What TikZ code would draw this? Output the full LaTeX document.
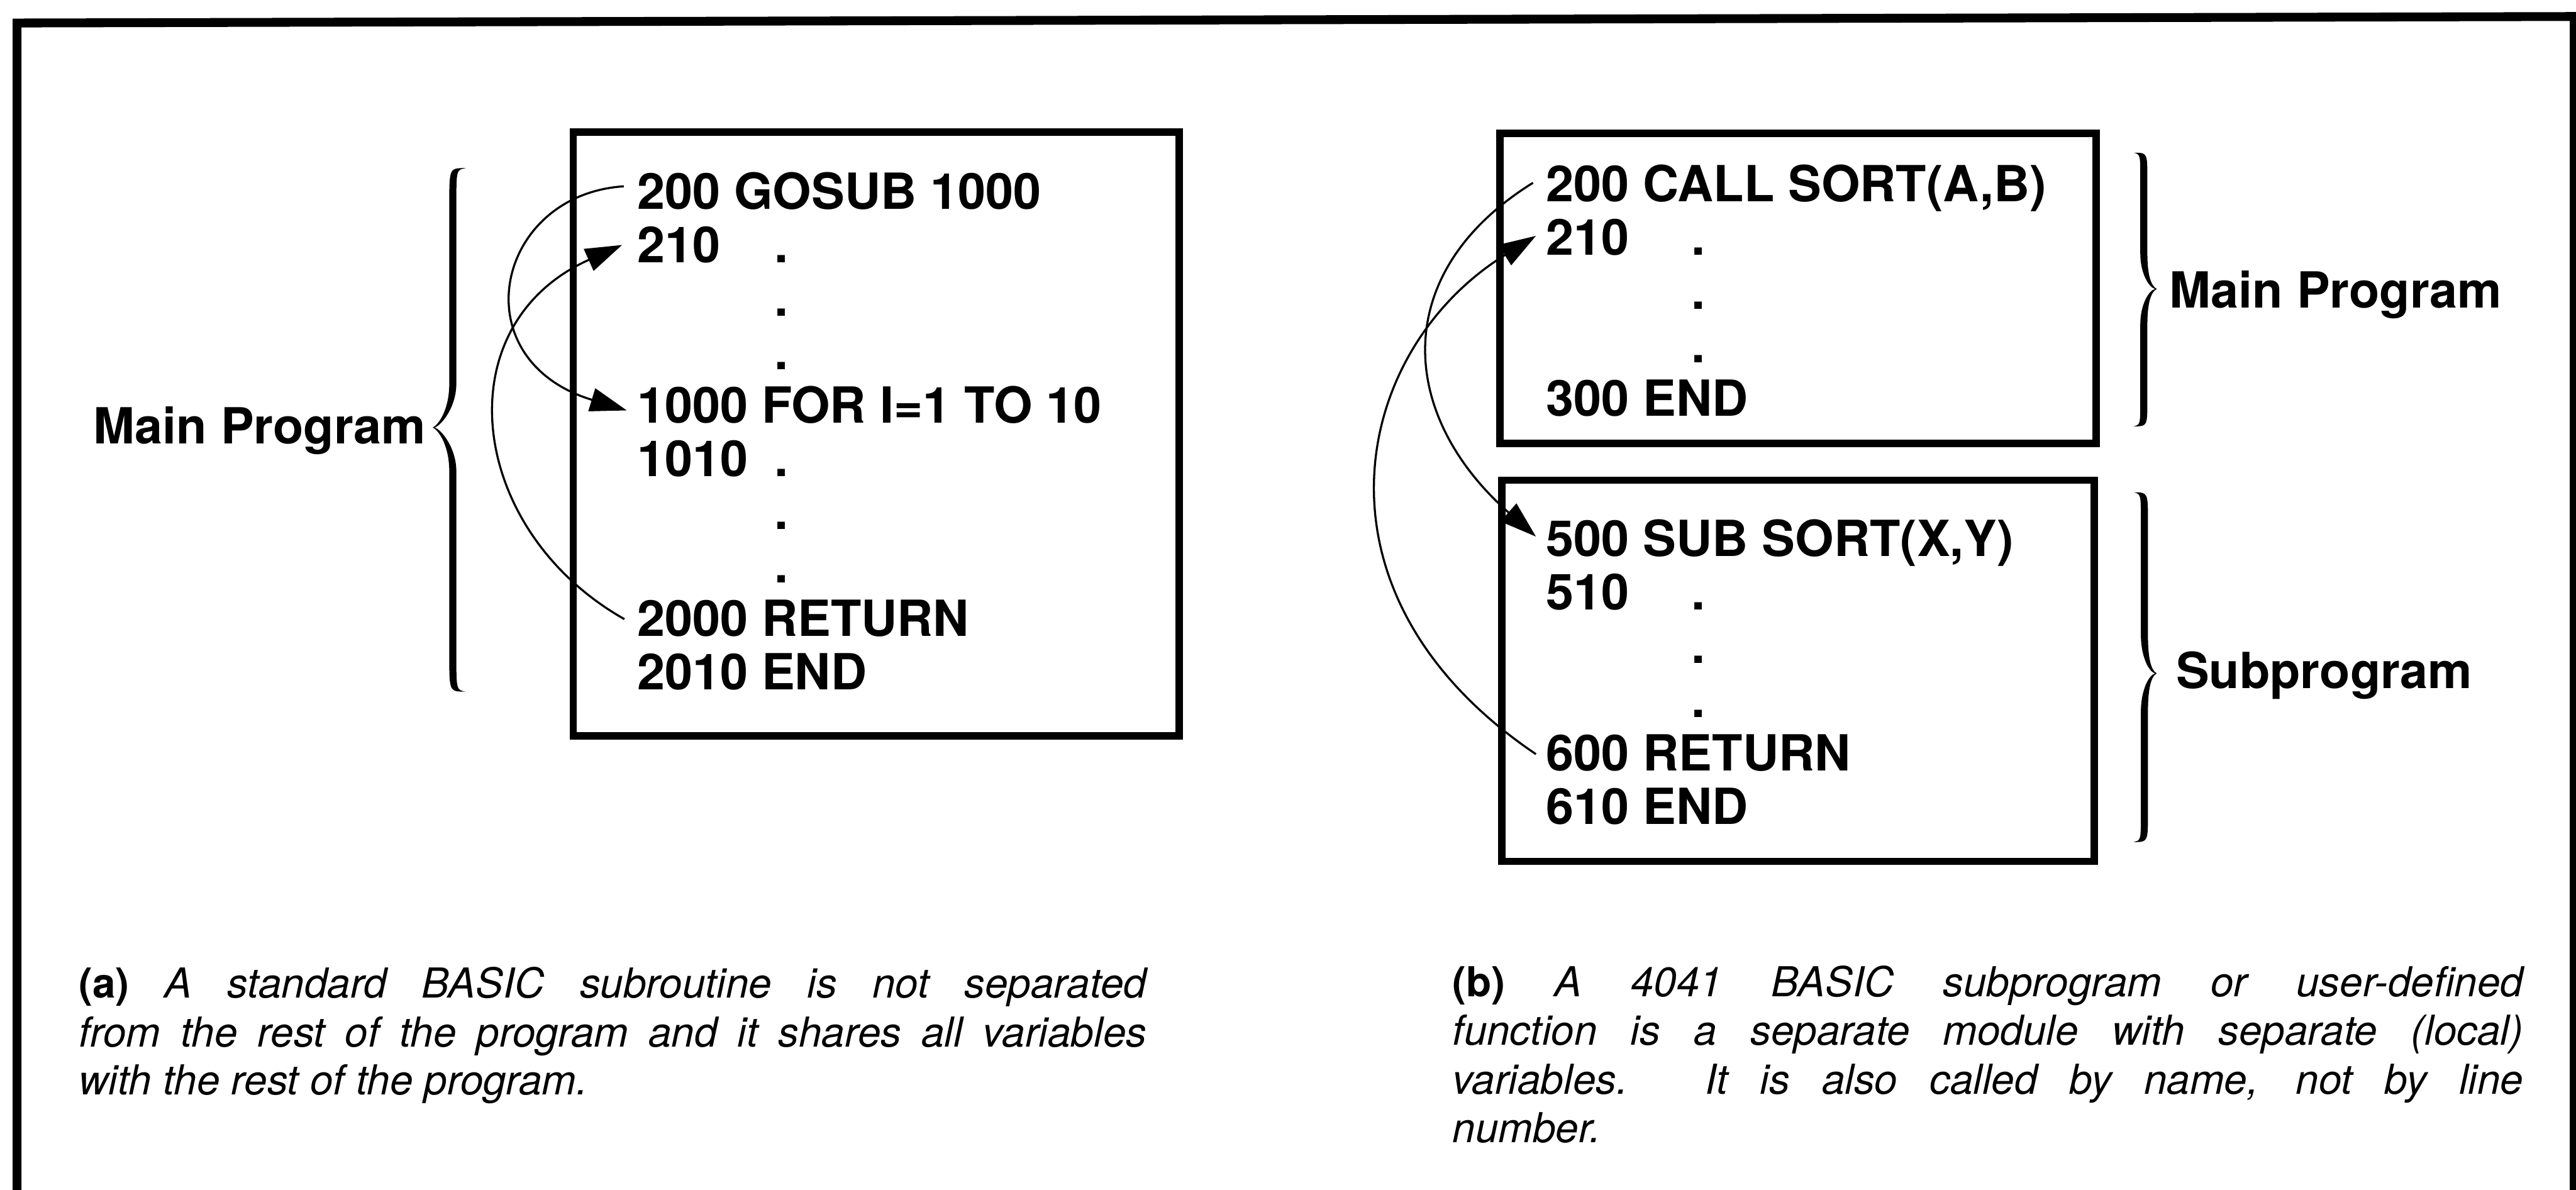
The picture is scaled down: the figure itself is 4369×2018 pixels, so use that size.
\documentclass[tikz,border=0pt]{standalone}
\usepackage{fontspec}
\setmainfont{TeX Gyre Heros}
\usetikzlibrary{arrows.meta,calc}

\tikzset{
  codeline/.style={anchor=base west, inner sep=0pt, text height=0.6cm, text depth=0cm,
                   font=\fontsize{24}{28}\selectfont\bfseries},
  dotnode/.style={anchor=base west, inner sep=0pt, font=\fontsize{24}{28}\selectfont\bfseries},
  labeltext/.style={anchor=base west, inner sep=0pt, font=\fontsize{24}{28}\selectfont\bfseries},
  captext/.style={anchor=base west, inner sep=0pt, font=\fontsize{19.9}{24}\selectfont\itshape},
  progbox/.style={line width=0.12cm},
  frameline/.style={line width=0.15cm, line join=miter},
  callarrow/.style={line width=0.035cm, -{Triangle[length=0.62cm,width=0.4cm]}},
  bracefill/.style={fill=black},
}

% #1 arm x, #2 tip y, #3 direction (1 = tip left, -1 = tip right), #4 end offset,
% #5 tip offset, #6 upper height, #7 lower height, #8 end curl, #9 tip curve
\newcommand\mybrace[9]{%
  \fill[bracefill, shift={(#1,#2)}, xscale=#3]
    (#4,-#6) .. controls (-6,-#6) .. (-6,-#6+#8)
    -- (-6,-#9)
    .. controls (-6,-0.4*#9) and (#5+10,-5) .. (#5,0)
    .. controls (#5+10,5) and (-6,0.4*#9) .. (-6,#9)
    -- (-6,#7-#8)
    .. controls (-6,#7) .. (#4,#7)
    .. controls (6,#7-3) .. (6,#7-#8)
    -- (6,#9)
    .. controls (6,0.45*#9) and (#5+14,3) .. (#5+3,0)
    .. controls (#5+14,-3) and (6,-0.45*#9) .. (6,-#9)
    -- (6,-#6+#8)
    .. controls (6,-#6+3) .. (#4,-#6) -- cycle;
}

\begin{document}
\begin{tikzpicture}
\begin{scope}[x=0.01cm, y=-0.01cm]
  \useasboundingbox (0,0) rectangle (4369,2018);
  \fill[white] (0,0) rectangle (4369,2018);

  % outer frame (no bottom edge visible)
  \draw[frameline] (29,2060) -- (29,39) -- (4366,28) -- (4366,2060);

  % ---------------- (a) standard BASIC ----------------
  \draw[progbox] (972,224) rectangle (2000,1248);

  \node[codeline] (a200)  at (1080,355)   {200 GOSUB 1000};
  \node[codeline] (a210)  at (1080,445.5) {210};
  \node[dotnode]  (ad0)   at (1313,445.5) {.};
  \node[dotnode]  (ad1)   at (1313,536)   {.};
  \node[dotnode]  (ad2)   at (1313,626.5) {.};
  \node[codeline] (a1000) at (1080,717)   {1000 FOR I=1 TO 10};
  \node[codeline] (a1010) at (1080,807.5) {1010};
  \node[dotnode]  (ad3)   at (1313,807.5) {.};
  \node[dotnode]  (ad4)   at (1313,898)   {.};
  \node[dotnode]  (ad5)   at (1313,988.5) {.};
  \node[codeline] (a2000) at (1080,1079)  {2000 RETURN};
  \node[codeline] (a2010) at (1080,1169.5){2010 END};

  \node[labeltext] (lblA) at (158,753) {Main Program};
  \mybrace{768}{725}{1}{22}{-34}{440}{448}{60}{75}

  \draw[callarrow] ($(a200.west)+(-22,-9)$) .. controls (840,330) and (780,610) .. ($(a1000.west)+(-17,9)$);
  \draw[callarrow] ($(a2000.west)+(-21,1)$) .. controls (792,899) and (752,551) .. ($(a210.west)+(-25,0)$);

  % ---------------- (b) 4041 BASIC ----------------
  \draw[progbox] (2544,226) rectangle (3555,752);
  \draw[progbox] (2547,814) rectangle (3552,1461);

  \node[codeline] (b200) at (2622,342) {200 CALL SORT(A,B)};
  \node[codeline] (b210) at (2622,433) {210};
  \node[dotnode]  (bd0)  at (2868,433) {.};
  \node[dotnode]  (bd1)  at (2868,524) {.};
  \node[dotnode]  (bd2)  at (2868,615) {.};
  \node[codeline] (b300) at (2622,706) {300 END};

  \node[codeline] (b500) at (2622,943)  {500 SUB SORT(X,Y)};
  \node[codeline] (b510) at (2622,1034) {510};
  \node[dotnode]  (bd3)  at (2868,1034) {.};
  \node[dotnode]  (bd4)  at (2868,1125) {.};
  \node[dotnode]  (bd5)  at (2868,1216) {.};
  \node[codeline] (b600) at (2622,1307) {600 RETURN};
  \node[codeline] (b610) at (2622,1398) {610 END};

  \mybrace{3636}{490}{-1}{17}{-22}{231}{233}{45}{60}
  \node[labeltext] (lblB) at (3679,522) {Main Program};
  \mybrace{3637}{1142}{-1}{18}{-21}{307}{286}{50}{65}
  \node[labeltext] (lblS) at (3690,1167) {Subprogram};

  \draw[callarrow] ($(b200.west)+(-22,-2)$) .. controls (2354,463) and (2372,705) .. ($(b500.west)+(-17,-3)$);
  \draw[callarrow] ($(b600.west)+(-17,2)$) .. controls (2202,1007) and (2293,593) .. ($(b210.west)+(-17,-3)$);

  % ---------------- captions ----------------
  \node[captext] (capa1) at (133,1692) {\makebox[18.1cm][s]{{\bfseries\upshape (a)} A standard BASIC subroutine is not separated}};
  \node[captext] (capa2) at (133,1775) {\makebox[18.1cm][s]{from the rest of the program and it shares all variables}};
  \node[captext] (capa3) at (133,1857) {with the rest of the program.};

  \node[captext] (capb1) at (2463,1690) {\makebox[18.15cm][s]{{\bfseries\upshape (b)} A 4041 BASIC subprogram or user-defined}};
  \node[captext] (capb2) at (2463,1772) {\makebox[18.15cm][s]{function is a separate module with separate (local)}};
  \node[captext] (capb3) at (2463,1855) {\makebox[18.15cm][s]{variables. It is also called by name, not by line}};
  \node[captext] (capb4) at (2463,1938) {number.};
\end{scope}
\end{tikzpicture}
\end{document}
